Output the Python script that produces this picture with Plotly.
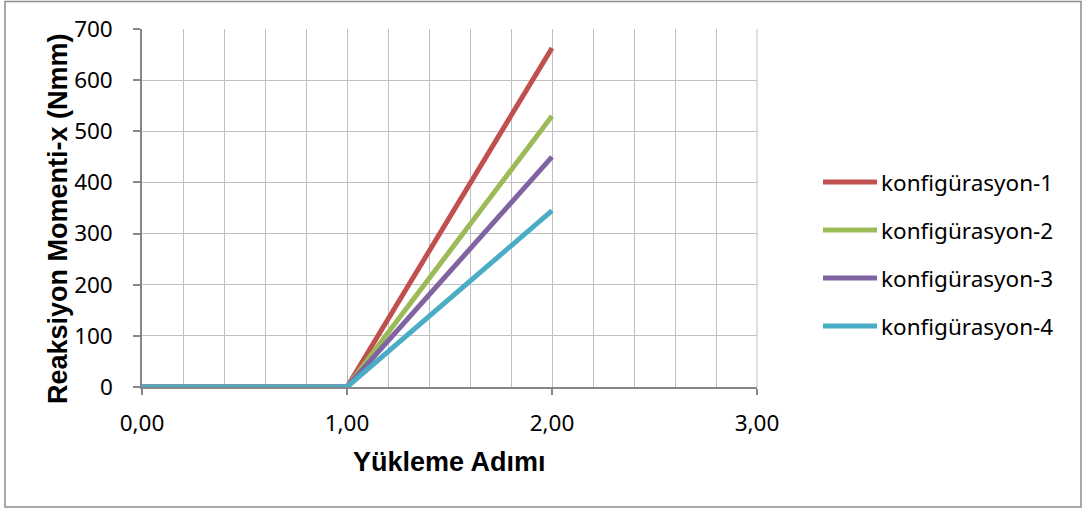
import plotly.graph_objects as go

# Load steps and reaction moment for each configuration
steps = [0.0, 1.0, 2.0]
konf_1 = [0, 0, 663]
konf_2 = [0, 0, 530]
konf_3 = [0, 0, 450]
konf_4 = [0, 0, 345]

series_names = ["konfigürasyon-1", "konfigürasyon-2", "konfigürasyon-3", "konfigürasyon-4"]
series_values = [konf_1, konf_2, konf_3, konf_4]
colors = ["#C0504D", "#9BBB59", "#8064A2", "#4BACC6"]

x_title = "Yükleme Adımı"
y_title = "Reaksiyon Momenti-x (Nmm)"

W, H = 1084, 510
L, R, T, B = 142, 327, 29, 123
pw, ph = W - L - R, H - T - B

def px_x(p):
    return (p - L) / pw

def px_y(p):
    return (H - B - p) / ph

fig = go.Figure()
for name, vals, col in zip(series_names, series_values, colors):
    fig.add_trace(go.Scatter(x=steps, y=vals, mode="lines", name=name,
                             line=dict(color=col, width=5), showlegend=False))

tick_font = dict(family="Noto Sans, Open Sans, sans-serif", size=22.5, color="#000000")
title_font = dict(family="Liberation Sans, Arial, sans-serif", size=27, color="#000000")

fig.update_xaxes(range=[0, 3], dtick=1, tick0=0, tickformat=".2f",
                 showgrid=True, gridcolor="#BFBFBF", gridwidth=1,
                 minor=dict(dtick=0.2, showgrid=True, gridcolor="#BFBFBF", gridwidth=1),
                 showline=True, linecolor="#868686", linewidth=1.5,
                 ticks="outside", ticklen=6, tickcolor="#868686", tickwidth=1.5,
                 ticklabelstandoff=9, tickfont=tick_font, zeroline=False)
fig.update_yaxes(range=[0, 700], dtick=100, tick0=0,
                 showgrid=True, gridcolor="#BFBFBF", gridwidth=1,
                 showline=True, linecolor="#868686", linewidth=1.5,
                 ticks="outside", ticklen=7, tickcolor="#868686", tickwidth=1.5,
                 ticklabelstandoff=16, tickfont=tick_font, zeroline=False)

# right edge of the plot area
fig.add_shape(type="line", xref="paper", yref="paper", x0=1, x1=1, y0=0, y1=1,
              line=dict(color="#BFBFBF", width=1), layer="below")

# chart frame
fig.add_shape(type="rect", xref="paper", yref="paper",
              x0=px_x(5), x1=px_x(1081), y0=px_y(507), y1=px_y(1.5),
              line=dict(color="#8C8C8C", width=1.5))

# axis titles
fig.add_annotation(text=f"<b>{x_title}</b>", xref="paper", yref="paper",
                   x=0.5, y=px_y(462), xanchor="center", yanchor="middle",
                   showarrow=False, font=title_font)
fig.add_annotation(text=f"<b>{y_title}</b>", xref="paper", yref="paper",
                   x=px_x(58), y=px_y(219), xanchor="center", yanchor="middle",
                   textangle=-90, showarrow=False, font=title_font)

# legend
leg_y = [182, 230, 278, 326]
for name, col, yy in zip(series_names, colors, leg_y):
    fig.add_shape(type="line", xref="paper", yref="paper",
                  x0=px_x(823), x1=px_x(877), y0=px_y(yy), y1=px_y(yy),
                  line=dict(color=col, width=5))
    fig.add_annotation(text=name, xref="paper", yref="paper",
                       x=px_x(879), y=px_y(yy), xanchor="left", yanchor="middle",
                       showarrow=False, font=tick_font)

fig.update_layout(width=W, height=H, margin=dict(l=L, r=R, t=T, b=B),
                  paper_bgcolor="#FFFFFF", plot_bgcolor="#FFFFFF",
                  separators=",.", showlegend=False)

fig.write_html("out.html")
